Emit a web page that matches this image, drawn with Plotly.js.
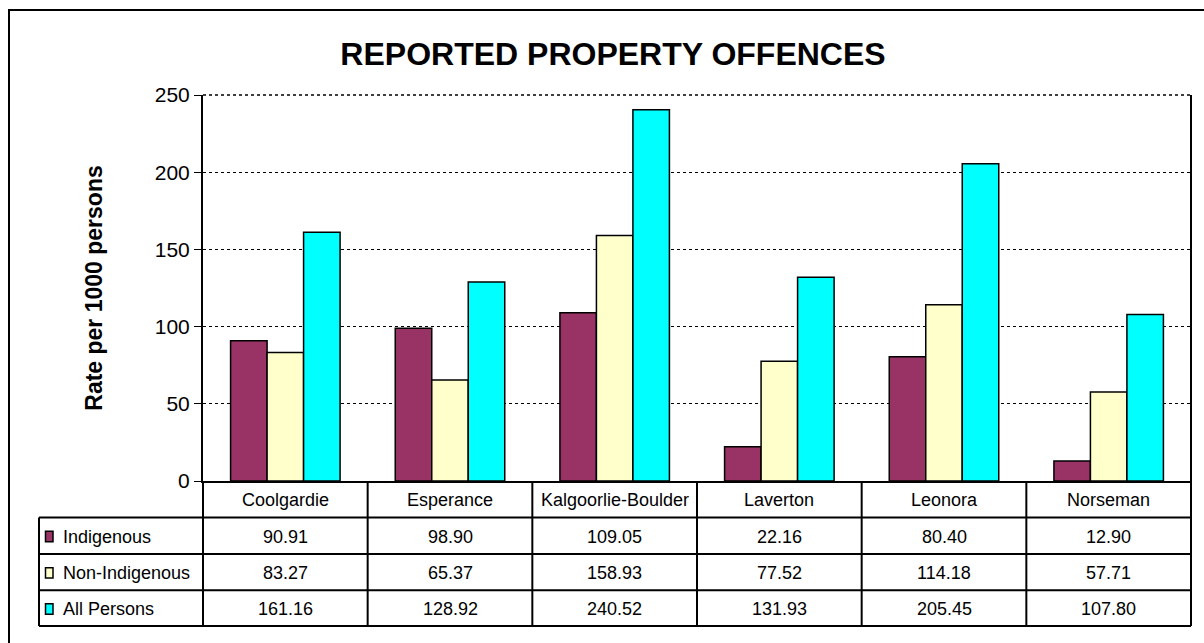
<!DOCTYPE html>
<html>
<head>
<meta charset="utf-8">
<script src="https://cdn.plot.ly/plotly-3.0.1.min.js"></script>
<style>html,body{margin:0;padding:0;background:#fff;}#chart{width:1204px;height:643px;}</style>
</head>
<body>
<div id="chart"></div>
<script>
const categories = ['Coolgardie', 'Esperance', 'Kalgoorlie-Boulder', 'Laverton', 'Leonora', 'Norseman'];
const indigenous = [90.91, 98.90, 109.05, 22.16, 80.40, 12.90];
const nonIndigenous = [83.27, 65.37, 158.93, 77.52, 114.18, 57.71];
const allPersons = [161.16, 128.92, 240.52, 131.93, 205.45, 107.80];
const seriesNames = ['Indigenous', 'Non-Indigenous', 'All Persons'];
const seriesColors = ['#993366', '#FFFFCC', '#00FFFF'];
const yTicks = [0, 50, 100, 150, 200, 250];

const seriesValues = [indigenous, nonIndigenous, allPersons];
const FONT = '"Liberation Sans", Arial, sans-serif';

// pixel geometry helpers
const W = 1204, H = 643;
const PL = 203, PR = 1191, PT = 95, PB = 481.5;
const px = v => (v - PL) / (PR - PL);
const py = v => (PB - v) / (PB - PT);

const traces = seriesNames.map((name, i) => ({
  type: 'bar',
  name: name,
  x: categories,
  y: seriesValues[i],
  marker: {color: seriesColors[i], line: {color: '#000', width: 1.5}},
  hoverinfo: 'x+y+name'
}));

const shapes = [];
const annotations = [];
const line = {color: '#000', width: 2};

// outer frame
shapes.push({type: 'rect', xref: 'paper', yref: 'paper', x0: px(9), x1: px(1215), y0: py(10), y1: py(660), line: {color: '#000', width: 2}, layer: 'below'});
// right border of plot
shapes.push({type: 'line', xref: 'paper', yref: 'paper', x0: 1, x1: 1, y0: 0, y1: 1, line: line});
// top edge of plot (dotted like the gridlines)
shapes.push({type: 'line', xref: 'paper', yref: 'paper', x0: 0, x1: 1, y0: 1, y1: 1, line: {color: '#000', width: 1.5, dash: 'dot'}});

// table geometry
const rowY = [PB, 518, 554.5, 591, 626.7];
const tableLeft = 39;
const colW = (PR - PL) / categories.length;
// horizontal lines
for (let r = 1; r < rowY.length; r++) {
  shapes.push({type: 'line', xref: 'paper', yref: 'paper', x0: px(tableLeft), x1: 1, y0: py(rowY[r]), y1: py(rowY[r]), line: line});
}
// vertical lines
for (let c = 0; c <= categories.length; c++) {
  const xx = px(PL + c * colW);
  shapes.push({type: 'line', xref: 'paper', yref: 'paper', x0: xx, x1: xx, y0: py(PB), y1: py(rowY[4]), line: line});
}
shapes.push({type: 'line', xref: 'paper', yref: 'paper', x0: px(tableLeft), x1: px(tableLeft), y0: py(rowY[1]), y1: py(rowY[4]), line: line});

const tfont = {family: FONT, size: 18, color: '#000'};
// category header cells
categories.forEach(cat => {
  annotations.push({xref: 'x', yref: 'paper', x: cat, y: py((rowY[0] + rowY[1]) / 2 + 1), text: cat, showarrow: false, font: tfont, xanchor: 'center', yanchor: 'middle'});
});
// data rows
seriesNames.forEach((name, i) => {
  const cy = (rowY[i + 1] + rowY[i + 2]) / 2 + 1;
  // legend key
  shapes.push({type: 'rect', xref: 'paper', yref: 'paper', x0: px(45.5), x1: px(53), y0: py(cy - 5.5), y1: py(cy + 5), fillcolor: seriesColors[i], line: {color: '#000', width: 1.5}});
  annotations.push({xref: 'paper', yref: 'paper', x: px(61), y: py(cy), text: name, showarrow: false, font: tfont, xanchor: 'left', yanchor: 'middle'});
  categories.forEach((cat, j) => {
    annotations.push({xref: 'x', yref: 'paper', x: cat, y: py(cy), text: seriesValues[i][j].toFixed(2), showarrow: false, font: tfont, xanchor: 'center', yanchor: 'middle'});
  });
});

const layout = {
  width: W, height: H, autosize: false,
  margin: {l: PL, r: W - PR, t: PT, b: H - PB, pad: 0},
  paper_bgcolor: '#fff', plot_bgcolor: '#fff',
  font: {family: FONT, color: '#000'},
  title: {text: 'REPORTED PROPERTY OFFENCES', font: {family: FONT, size: 32, color: '#000', weight: 'bold'},
          xref: 'container', yref: 'container', x: 613 / W, y: 1 - 54 / H, xanchor: 'center', yanchor: 'middle'},
  showlegend: false,
  barmode: 'group', bargap: 0.335, bargroupgap: 0,
  xaxis: {type: 'category', showticklabels: false, ticks: '', showgrid: false, zeroline: false,
          showline: true, linecolor: '#000', linewidth: 2, fixedrange: true},
  yaxis: {range: [0, 250], tickvals: yTicks, ticktext: yTicks.map(String), ticks: 'outside', ticklen: 7, tickcolor: '#000', tickwidth: 1,
          tickfont: {family: FONT, size: 21, color: '#000'},
          showline: true, linecolor: '#000', linewidth: 2, zeroline: false,
          showgrid: true, gridcolor: '#000', gridwidth: 1, griddash: 'dot',
          title: {text: 'Rate per 1000 persons', font: {family: FONT, size: 23, color: '#000', weight: 'bold'}, standoff: 46},
          automargin: false, fixedrange: true},
  shapes: shapes,
  annotations: annotations
};

Plotly.newPlot('chart', traces, layout, {displayModeBar: false, staticPlot: true});
</script>
</body>
</html>
